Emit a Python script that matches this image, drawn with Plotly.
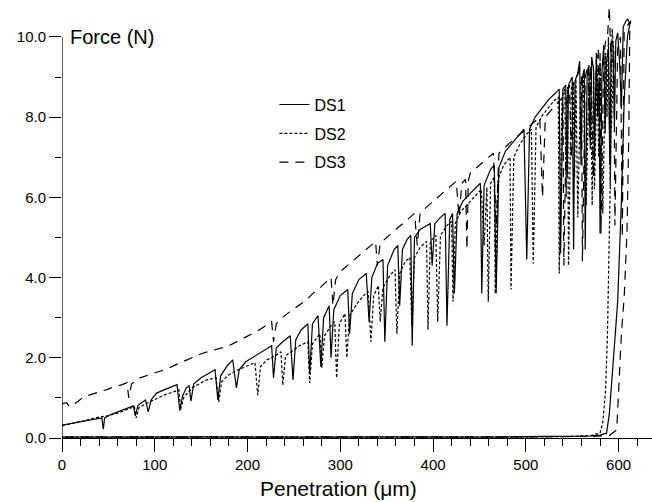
import plotly.graph_objects as go

# ---------------- data ----------------
ds1_x = [0, 10, 20, 30, 40, 43, 44.5, 46, 52, 60, 70, 77, 79, 82, 90, 93, 96, 102, 110, 118, 124, 127, 130, 134, 137, 139, 142,
         150, 158, 165, 168, 171, 178, 184, 188, 191, 198, 205, 212, 220, 226, 228, 231, 238, 246, 249, 252, 258, 265, 267, 270,
         276, 279, 282, 288, 290, 293, 300, 308, 310, 313, 320, 328, 331, 334, 340, 346, 348, 351, 358, 362, 364, 367, 372, 376,
         377.5, 380, 386, 393, 397, 399, 402, 408, 413, 415, 418, 421, 423, 426, 432, 440, 446, 451, 452.5, 455, 462, 466, 468,
         471, 478, 485, 492, 498, 501, 504, 510, 518, 525, 532, 536, 537.5, 540, 543, 544.5, 546, 550, 551.5, 553, 556, 558,
         559.5, 561, 563, 564, 566, 568, 569.5, 571, 573, 574, 576, 577.5, 579, 580, 582, 584, 585.5, 587, 589, 590.5, 592, 594,
         595.5, 597, 599, 601, 603, 605, 608, 610, 612, 609.5, 606, 603, 599, 594, 590, 587, 580, 570, 555, 520, 450, 350, 250,
         150, 50, 0]
ds1_y = [0.32, 0.36, 0.40, 0.44, 0.48, 0.50, 0.22, 0.50, 0.58, 0.65, 0.72, 0.80, 0.55, 0.82, 0.95, 0.65, 0.95, 1.12, 1.20, 1.28,
         1.33, 0.68, 1.05, 1.25, 1.30, 0.92, 1.35, 1.50, 1.60, 1.70, 0.95, 1.55, 1.80, 1.95, 1.25, 1.70, 1.90, 2.00, 2.10, 2.20,
         2.30, 1.50, 2.25, 2.40, 2.55, 1.45, 2.45, 2.70, 2.85, 1.60, 2.85, 3.05, 1.78, 3.00, 3.30, 2.00, 3.20, 3.55, 3.70, 2.60,
         3.60, 3.95, 4.10, 2.90, 4.00, 4.35, 4.45, 2.40, 4.30, 4.70, 4.80, 3.30, 4.70, 4.95, 5.05, 2.30, 5.00, 5.20, 5.30, 5.35,
         4.30, 5.35, 5.50, 5.60, 2.80, 5.45, 5.60, 3.60, 5.60, 5.90, 6.10, 6.25, 6.35, 3.60, 6.30, 6.70, 6.80, 3.60, 6.75, 7.15,
         7.35, 7.55, 7.70, 4.45, 7.70, 8.00, 8.25, 8.45, 8.60, 8.70, 4.60, 8.70, 8.80, 6.50, 8.80, 9.00, 4.70, 8.90, 9.10, 9.40,
         6.80, 9.00, 9.20, 4.70, 9.00, 9.30, 7.20, 9.50, 9.20, 7.00, 9.60, 8.00, 9.00, 5.10, 9.10, 9.80, 7.60, 9.40, 9.70, 6.80,
         9.90, 9.80, 7.80, 9.90, 10.10, 9.40, 8.20, 10.25, 10.40, 10.45, 10.30, 10.00, 8.40, 5.90, 3.40, 1.80, 0.60, 0.12, 0.07,
         0.05, 0.05, 0.04, 0.02, 0.03, 0.02, 0.03, 0.02, 0.02]

ds2_x = [0, 10, 20, 30, 40, 50, 60, 70, 78, 80, 83, 90, 100, 110, 120, 126, 128, 131, 140, 150, 156, 166, 169, 172, 180, 190,
         200, 208, 211, 214, 221, 230, 236, 238, 241, 250, 256, 265, 267, 270, 278, 280, 283, 290, 294, 296, 299, 305, 307, 310,
         318, 325, 330, 333, 336, 341, 343, 346, 352, 359, 361, 364, 370, 375, 377, 380, 386, 393, 394.5, 397, 403, 405, 408,
         415, 420, 421.5, 424, 430, 438, 446, 452, 455, 458, 459.5, 462, 466, 467, 470, 476, 483, 484, 487, 493, 500, 506, 508,
         511, 518, 525, 530, 535, 536, 539, 542, 543.5, 545, 546, 549, 551, 552.5, 554, 556, 559, 562, 563.5, 565, 568, 570,
         571.5, 573, 574, 577, 578.5, 580, 583, 586, 587.5, 589, 591, 593, 595, 594, 592, 590, 588, 586, 583, 580, 570, 550,
         500, 400, 300, 200, 100, 0]
ds2_y = [0.30, 0.36, 0.42, 0.47, 0.52, 0.56, 0.62, 0.70, 0.78, 0.50, 0.76, 0.85, 0.97, 1.07, 1.15, 1.20, 0.72, 1.00, 1.25, 1.38,
         1.45, 1.50, 0.90, 1.40, 1.58, 1.70, 1.80, 1.88, 1.07, 1.78, 1.95, 2.05, 2.15, 1.32, 2.05, 2.20, 2.30, 2.40, 1.37, 2.35,
         2.60, 1.75, 2.55, 2.80, 2.90, 1.50, 2.85, 3.10, 2.00, 3.05, 3.35, 3.55, 3.65, 2.40, 3.55, 3.80, 2.90, 3.75, 4.00, 4.20,
         2.60, 4.10, 4.40, 4.50, 2.80, 4.50, 4.75, 4.90, 2.70, 4.90, 5.05, 2.90, 5.05, 5.30, 5.40, 3.40, 5.35, 5.65, 5.85, 6.05,
         6.20, 4.80, 6.25, 3.40, 6.35, 6.50, 3.60, 6.45, 6.80, 7.00, 3.70, 7.00, 7.30, 7.55, 7.70, 4.35, 7.75, 8.05, 8.25, 8.40,
         8.50, 4.10, 8.50, 8.70, 6.00, 8.75, 4.30, 8.70, 8.90, 6.50, 8.95, 5.50, 8.85, 9.05, 6.80, 5.80, 9.00, 9.20, 5.80, 9.10,
         6.20, 9.30, 7.00, 9.50, 5.60, 9.60, 8.00, 10.00, 6.20, 10.20, 9.60, 9.00, 7.60, 5.10, 2.60, 1.20, 0.40, 0.12, 0.06, 0.04,
         0.02, 0.03, 0.02, 0.03, 0.02, 0.03]

ds3_x = [0, 5, 8, 12, 23, 30, 40, 50, 55, 65, 70, 72, 75, 84, 95, 105, 113, 125, 135, 141, 150, 160, 170, 178, 190, 199, 210,
         221, 226, 228, 231, 240, 246, 255, 264, 270, 278, 285, 290, 292, 295, 300, 310, 320, 330, 338, 340, 343, 350, 360, 370,
         380, 383, 386, 395, 405, 415, 425, 428, 431, 435, 436.5, 438, 440, 450, 460, 465, 468, 471, 480, 490, 500, 510, 515,
         518, 521, 530, 540, 541, 544, 547, 549, 551, 555, 558, 560, 561, 564, 567, 568.5, 570, 573, 576, 578, 579.5, 580, 581,
         584, 586, 588, 590, 592, 595, 596, 599, 602, 604, 606, 610, 613, 612, 611, 609, 606, 603, 600, 598, 590, 570, 500, 400,
         300, 200, 100, 0]
ds3_y = [0.85, 0.88, 0.78, 0.82, 1.02, 1.08, 1.15, 1.22, 1.27, 1.33, 1.38, 1.00, 1.35, 1.50, 1.58, 1.65, 1.72, 1.85, 1.95, 2.03,
         2.10, 2.17, 2.23, 2.28, 2.42, 2.52, 2.66, 2.82, 2.90, 2.40, 2.85, 3.05, 3.15, 3.30, 3.45, 3.60, 3.74, 3.90, 4.00, 3.30,
         3.95, 4.15, 4.35, 4.55, 4.75, 4.90, 4.30, 4.85, 5.00, 5.20, 5.40, 5.60, 4.80, 5.60, 5.80, 6.00, 6.20, 6.40, 5.50, 6.35,
         6.45, 4.70, 6.40, 6.60, 6.80, 7.00, 7.10, 5.30, 7.10, 7.30, 7.50, 7.70, 7.90, 8.00, 6.00, 8.00, 8.25, 8.50, 4.30, 8.50,
         8.80, 7.00, 8.80, 9.00, 9.20, 9.10, 4.40, 9.00, 9.30, 7.50, 9.30, 6.50, 9.40, 9.70, 7.80, 9.60, 5.10, 9.50, 9.90, 10.00,
         10.75, 9.20, 9.60, 5.30, 9.70, 10.00, 5.00, 10.10, 10.30, 10.40, 10.10, 7.60, 5.10, 3.50, 2.60, 1.00, 0.20, 0.06, 0.04,
         0.03, 0.02, 0.03, 0.02, 0.03, 0.02]

series_names = ["DS1", "DS2", "DS3"]
x_ticks = [0, 100, 200, 300, 400, 500, 600]
y_ticks = [0, 2, 4, 6, 8, 10]
y_tick_labels = ["0.0", "2.0", "4.0", "6.0", "8.0", "10.0"]
x_title = "Penetration (\u03bcm)"
y_title = "Force (N)"

# ---------------- figure ----------------
FONT = "Liberation Sans, Arial, sans-serif"
fig = go.Figure()
styles = ["solid", "3px,2px", "9px,7px"]
for name, xs, ys, dash in zip(series_names, [ds1_x, ds2_x, ds3_x], [ds1_y, ds2_y, ds3_y], styles):
    fig.add_trace(go.Scatter(x=xs, y=ys, mode="lines", name=name, legendgroup=name,
                             line=dict(color="black", width=1.2, dash=dash)))

fig.update_layout(
    width=652, height=502,
    margin=dict(l=62, r=0, t=0, b=64),
    paper_bgcolor="white", plot_bgcolor="white",
    font=dict(family=FONT, color="black"),
    showlegend=True,
    legend=dict(x=0.36, y=0.80, xanchor="left", yanchor="top", bgcolor="rgba(0,0,0,0)",
                font=dict(size=16, family=FONT), tracegroupgap=5),
)
fig.update_xaxes(
    range=[0, 636], showgrid=False, zeroline=False,
    showline=True, linecolor="black", linewidth=1.3,
    tickmode="array", tickvals=x_ticks, ticktext=[str(v) for v in x_ticks],
    ticks="outside", ticklen=13, tickwidth=1.3, tickcolor="black",
    tickfont=dict(size=15, family=FONT),
    minor=dict(dtick=20, tick0=0, ticks="outside", ticklen=7, tickwidth=1.2, tickcolor="black", showgrid=False),
)
fig.update_yaxes(
    range=[0, 10.92], showgrid=False, zeroline=False, showline=False,
    tickmode="array", tickvals=y_ticks, ticktext=y_tick_labels,
    ticks="outside", ticklen=12, tickwidth=1.3, tickcolor="black",
    tickfont=dict(size=15, family=FONT),
    minor=dict(dtick=1, tick0=0, ticks="outside", ticklen=6, tickwidth=1.2, tickcolor="black", showgrid=False),
)
# y axis line only spans 0..10 as in the reference
fig.add_shape(type="line", xref="x", yref="y", x0=0, x1=0, y0=0, y1=10,
              line=dict(color="black", width=1.3), layer="above")
fig.add_annotation(text=y_title, xref="paper", yref="y", x=0, y=10, xanchor="left", yanchor="middle",
                   xshift=6, showarrow=False, font=dict(size=20, family=FONT))
fig.add_annotation(text=x_title, xref="paper", yref="paper", x=0.468, y=0, xanchor="center", yanchor="middle",
                   yshift=-50, showarrow=False, font=dict(size=21, family=FONT))

fig.write_html("out.html")
